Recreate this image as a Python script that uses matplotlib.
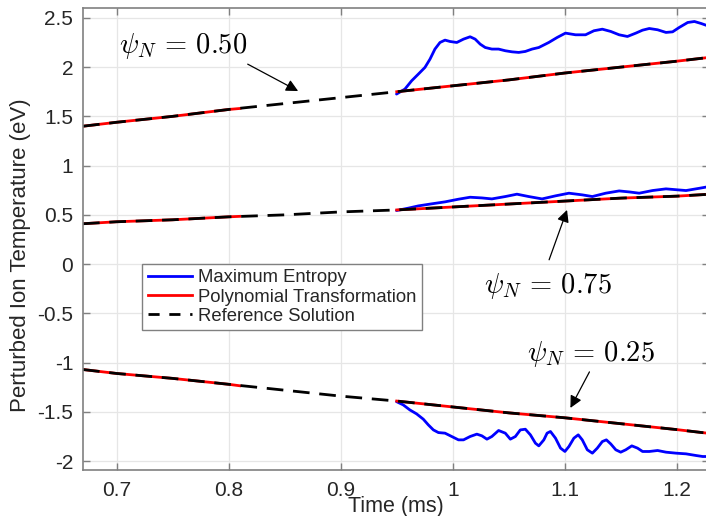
import matplotlib
matplotlib.use("Agg")
import matplotlib.pyplot as plt
from matplotlib.lines import Line2D

plt.rcParams['font.family'] = ['Liberation Sans', 'DejaVu Sans']
plt.rcParams['mathtext.fontset'] = 'cm'
plt.rcParams['axes.unicode_minus'] = False

# Reference solution (black dashed)
ref_t = [0.67, 0.70, 0.75, 0.80, 0.85, 0.90, 0.95, 1.00, 1.05, 1.10, 1.15, 1.20, 1.23]
ref_050 = [1.40, 1.44, 1.50, 1.57, 1.63, 1.69, 1.75, 1.81, 1.87, 1.94, 2.00, 2.06, 2.10]
ref_075 = [0.41, 0.43, 0.45, 0.48, 0.50, 0.53, 0.55, 0.58, 0.61, 0.64, 0.67, 0.69, 0.71]
ref_025 = [-1.07, -1.11, -1.16, -1.22, -1.28, -1.34, -1.39, -1.45, -1.51, -1.56, -1.62, -1.68, -1.72]

# Polynomial transformation (red), two segments
poly_t_a = [0.67, 0.70, 0.75, 0.80, 0.81]
poly_050_a = [1.40, 1.44, 1.50, 1.57, 1.58]
poly_075_a = [0.41, 0.43, 0.45, 0.48, 0.485]
poly_025_a = [-1.07, -1.11, -1.16, -1.22, -1.235]
poly_t_b = [0.95, 1.00, 1.05, 1.10, 1.15, 1.20, 1.23]
poly_050_b = [1.75, 1.81, 1.87, 1.94, 2.00, 2.06, 2.10]
poly_075_b = [0.55, 0.58, 0.61, 0.64, 0.67, 0.69, 0.71]
poly_025_b = [-1.39, -1.45, -1.51, -1.56, -1.62, -1.68, -1.72]

# Maximum entropy (blue)
me050_t = [0.9498, 0.9573, 0.9633, 0.9693, 0.9752, 0.9797, 0.9841, 0.9886, 0.9931, 0.9976,
           1.0036, 1.0096, 1.0155, 1.0200, 1.0245, 1.0290, 1.0349, 1.0409, 1.0469, 1.0529,
           1.0589, 1.0648, 1.0708, 1.0768, 1.0857, 1.0932, 1.1006, 1.1096, 1.1185, 1.1260,
           1.1335, 1.1410, 1.1485, 1.1559, 1.1634, 1.1694, 1.1754, 1.1828, 1.1903, 1.1962,
           1.2022, 1.2097, 1.2157, 1.2216, 1.2276]
me050_v = [1.726, 1.777, 1.861, 1.929, 1.997, 2.081, 2.183, 2.250, 2.274, 2.260,
           2.250, 2.284, 2.308, 2.284, 2.233, 2.199, 2.183, 2.183, 2.166, 2.155,
           2.149, 2.159, 2.183, 2.199, 2.250, 2.301, 2.345, 2.328, 2.328, 2.369,
           2.385, 2.362, 2.328, 2.311, 2.345, 2.375, 2.392, 2.379, 2.352, 2.358,
           2.403, 2.453, 2.463, 2.443, 2.419]

me075_t = [0.9498, 0.9603, 0.9693, 0.9812, 0.9931, 1.0051, 1.0155, 1.0260, 1.0349, 1.0469,
           1.0573, 1.0678, 1.0797, 1.0917, 1.1037, 1.1156, 1.1246, 1.1365, 1.1485, 1.1574,
           1.1664, 1.1783, 1.1903, 1.2007, 1.2082, 1.2202, 1.2285]
me075_v = [0.544, 0.568, 0.591, 0.612, 0.632, 0.659, 0.679, 0.672, 0.662, 0.686,
           0.710, 0.686, 0.662, 0.693, 0.720, 0.703, 0.686, 0.720, 0.743, 0.733,
           0.720, 0.747, 0.764, 0.754, 0.747, 0.770, 0.787]

me025_t = [0.9498, 0.9558, 0.9617, 0.9677, 0.9737, 0.9782, 0.9827, 0.9872, 0.9931, 0.9991,
           1.0051, 1.0096, 1.0155, 1.0215, 1.0260, 1.0305, 1.0349, 1.0409, 1.0469, 1.0514,
           1.0559, 1.0603, 1.0648, 1.0693, 1.0738, 1.0768, 1.0813, 1.0842, 1.0872, 1.0917,
           1.0962, 1.1001, 1.1037, 1.1081, 1.1120, 1.1156, 1.1201, 1.1246, 1.1290, 1.1335,
           1.1371, 1.1410, 1.1455, 1.1499, 1.1544, 1.1598, 1.1649, 1.1694, 1.1754, 1.1828,
           1.1903, 1.1992, 1.2082, 1.2172, 1.2231, 1.2285]
me025_v = [-1.396, -1.429, -1.480, -1.520, -1.574, -1.632, -1.683, -1.710, -1.716, -1.750,
           -1.784, -1.784, -1.750, -1.726, -1.743, -1.777, -1.750, -1.689, -1.716, -1.777,
           -1.750, -1.683, -1.676, -1.733, -1.818, -1.845, -1.784, -1.716, -1.699, -1.767,
           -1.868, -1.902, -1.851, -1.767, -1.733, -1.784, -1.885, -1.919, -1.868, -1.801,
           -1.784, -1.825, -1.885, -1.909, -1.885, -1.845, -1.868, -1.902, -1.902, -1.892,
           -1.909, -1.919, -1.926, -1.943, -1.953, -1.953]

xticks = [0.7, 0.8, 0.9, 1.0, 1.1, 1.2]
xticklabels = ['0.7', '0.8', '0.9', '1', '1.1', '1.2']
yticks = [-2, -1.5, -1, -0.5, 0, 0.5, 1, 1.5, 2, 2.5]
yticklabels = ['-2', '-1.5', '-1', '-0.5', '0', '0.5', '1', '1.5', '2', '2.5']

legend_labels = ['Maximum Entropy', 'Polynomial Transformation', 'Reference Solution']

fig = plt.figure(figsize=(7.06, 5.16), dpi=100)
ax = fig.add_axes([83/706, 46/516, 626/706, 462/516])

lw = 2.0
spine_c = '#808080'
txt_c = '#262626'
blue, red = '#0000ff', '#ff0000'

for t, v in [(me050_t, me050_v), (me075_t, me075_v), (me025_t, me025_v)]:
    ax.plot(t, v, color=blue, lw=lw, solid_capstyle='round', solid_joinstyle='round')
for t, v in [(poly_t_a, poly_050_a), (poly_t_a, poly_075_a), (poly_t_a, poly_025_a),
             (poly_t_b, poly_050_b), (poly_t_b, poly_075_b), (poly_t_b, poly_025_b)]:
    ax.plot(t, v, color=red, lw=lw)
for v in [ref_050, ref_075, ref_025]:
    ax.plot(ref_t, v, color='black', lw=lw, dashes=(6, 3.5))

ax.set_xlim(0.67, 1.2287)
ax.set_ylim(-2.09, 2.6)
ax.set_xticks(xticks)
ax.set_xticklabels(xticklabels)
ax.set_yticks(yticks)
ax.set_yticklabels(yticklabels)
ax.grid(True, color='#e6e6e6', lw=0.9)
ax.set_axisbelow(True)
ax.tick_params(direction='in', length=5, width=1, color=spine_c, top=True, right=True,
               labelsize=15, labelcolor=txt_c)
ax.tick_params(axis='x', pad=8)
ax.tick_params(axis='y', pad=7)
for s in ax.spines.values():
    s.set_color(spine_c)
    s.set_linewidth(1.2)

ax.set_xlabel('Time (ms)', fontsize=15.5, color=txt_c)
ax.xaxis.set_label_coords(0.5, -0.056)
ax.set_ylabel('Perturbed Ion Temperature (eV)', fontsize=16, color=txt_c)
ax.yaxis.set_label_coords(-0.083, 0.465)

handles = [Line2D([], [], color=blue, lw=lw),
           Line2D([], [], color=red, lw=lw),
           Line2D([], [], color='black', lw=lw, dashes=(4, 3.5))]
leg = ax.legend(handles, legend_labels,
                loc='upper left', bbox_to_anchor=(0.0947, 0.446), borderaxespad=0,
                fontsize=13.3, handlelength=2.4, handletextpad=0.3, labelspacing=0.12,
                borderpad=0.3, fancybox=False, framealpha=1, edgecolor='#808080')
leg.get_frame().set_linewidth(1.0)
for txt in leg.get_texts():
    txt.set_color(txt_c)

arrowprops = dict(arrowstyle='-|>', color='black', lw=0.9, mutation_scale=18, shrinkA=0, shrinkB=0)
ax.annotate('', xy=(0.862, 1.757), xytext=(0.817, 2.03), arrowprops=arrowprops)
ax.annotate('', xy=(1.102, 0.55), xytext=(1.086, 0.044), arrowprops=arrowprops)
ax.annotate('', xy=(1.105, -1.46), xytext=(1.122, -1.094), arrowprops=arrowprops)
ax.text(0.702, 2.21, r'$\psi_N\, =\, 0.50$', fontsize=20.5, ha='left', va='center')
ax.text(1.028, -0.22, r'$\psi_N\, =\, 0.75$', fontsize=20.5, ha='left', va='center')
ax.text(1.066, -0.912, r'$\psi_N\, =\, 0.25$', fontsize=20.5, ha='left', va='center')

fig.savefig('out.png', dpi=100)
